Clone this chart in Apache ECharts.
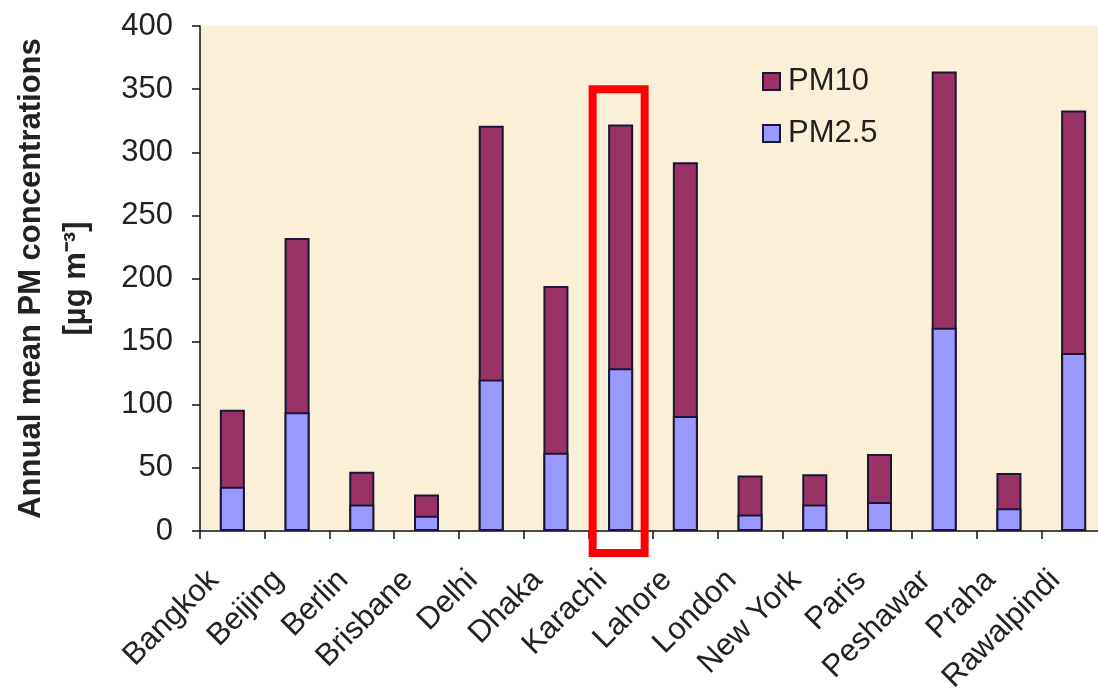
<!DOCTYPE html>
<html>
<head>
<meta charset="utf-8">
<script src="https://cdn.jsdelivr.net/npm/echarts@6/dist/echarts.min.js"></script>
<style>
  html, body { margin: 0; padding: 0; background: #ffffff; }
  #chart { width: 1098px; height: 690px; }
</style>
</head>
<body>
<div id="chart"></div>
<script>
// Annual mean particulate matter concentrations by city (µg/m³)
const cities = ['Bangkok', 'Beijing', 'Berlin', 'Brisbane', 'Delhi', 'Dhaka', 'Karachi',
  'Lahore', 'London', 'New York', 'Paris', 'Peshawar', 'Praha', 'Rawalpindi'];
const pm10 = [96, 232, 47, 29, 321, 194, 322, 292, 44, 45, 61, 364, 46, 333];
const pm25 = [35, 94, 21, 12, 120, 62, 129, 91, 13, 21, 23, 161, 18, 141];
const yTicks = [0, 50, 100, 150, 200, 250, 300, 350, 400];
const highlightCity = 'Karachi';

const FONT = '"Liberation Sans", Arial, sans-serif';
const chart = echarts.init(document.getElementById('chart'), null, { renderer: 'canvas' });

const barBorder = { borderColor: '#1a1634', borderWidth: 2 };

chart.setOption({
  animation: false,
  backgroundColor: '#ffffff',
  textStyle: { fontFamily: FONT },
  grid: {
    left: 200, right: -8, top: 26, bottom: 159,
    outerBoundsMode: 'none', containLabel: false,
    show: true, backgroundColor: '#fcefd8', borderWidth: 0
  },
  legend: {
    orient: 'vertical',
    left: 757, top: 61,
    itemWidth: 17, itemHeight: 17, itemGap: 21,
    data: ['PM10', 'PM2.5'],
    textStyle: { fontSize: 31, color: '#222', fontFamily: FONT, padding: [0, 0, 0, 3] },
    icon: 'rect'
  },
  xAxis: {
    type: 'category',
    data: cities,
    boundaryGap: true,
    axisLine: { lineStyle: { color: '#111', width: 1.5 } },
    axisTick: { show: true, length: 8, lineStyle: { color: '#111', width: 1.5 } },
    axisLabel: {
      interval: 0, rotate: 45, fontSize: 31, color: '#222', fontFamily: FONT,
      margin: 26, padding: [0, 26, 0, 0]
    }
  },
  yAxis: {
    type: 'value',
    min: yTicks[0], max: yTicks[yTicks.length - 1], interval: 50,
    splitLine: { show: false },
    axisLine: { show: true, lineStyle: { color: '#111', width: 1.5 } },
    axisTick: { show: true, length: 8, lineStyle: { color: '#111', width: 1.5 } },
    axisLabel: { fontSize: 31, color: '#222', fontFamily: FONT, margin: 27 },
    name: 'Annual mean PM concentrations\n[µg m⁻³]',
    nameLocation: 'middle',
    nameRotate: 90,
    nameGap: 101,
    nameTextStyle: {
      fontSize: 31, fontWeight: 'bold', color: '#222', fontFamily: FONT,
      lineHeight: 45, align: 'center'
    }
  },
  series: [
    {
      name: 'PM10', type: 'bar', data: pm10, barWidth: 25, barGap: '-100%',
      itemStyle: Object.assign({ color: '#993366' }, barBorder)
    },
    {
      name: 'PM2.5', type: 'bar', data: pm25, barWidth: 25, barGap: '-100%',
      itemStyle: Object.assign({ color: '#9999ff' }, barBorder)
    }
  ]
});

// Outline drawn around the highlighted city's bar, placed through the axis scales
function drawHighlight() {
  const top = chart.convertToPixel({ yAxisIndex: 0 }, 350);
  const base = chart.convertToPixel({ yAxisIndex: 0 }, 0);
  const cx = chart.convertToPixel({ xAxisIndex: 0 }, highlightCity);
  chart.setOption({
    graphic: [{
      type: 'rect',
      shape: { x: cx - 28, y: top, width: 52, height: base - top + 22 },
      style: { fill: 'none', stroke: '#ff0000', lineWidth: 8 },
      z: 100
    }]
  });
}
drawHighlight();
</script>
</body>
</html>
